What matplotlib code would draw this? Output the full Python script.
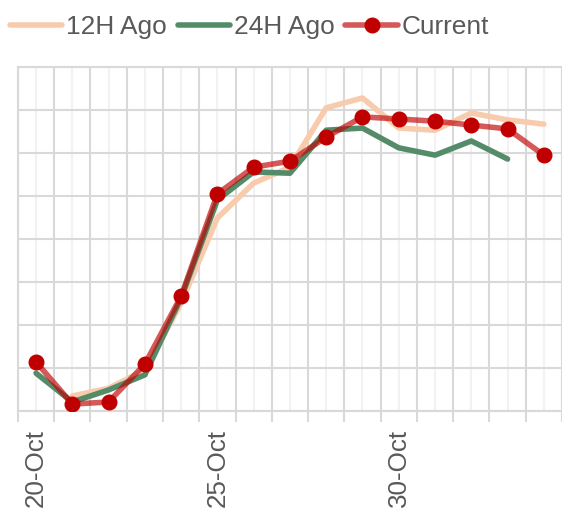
import matplotlib
matplotlib.use("Agg")
import matplotlib.pyplot as plt
import numpy as np

dates = ["20-Oct", "21-Oct", "22-Oct", "23-Oct", "24-Oct", "25-Oct", "26-Oct", "27-Oct",
         "28-Oct", "29-Oct", "30-Oct", "31-Oct", "1-Nov", "2-Nov", "3-Nov"]
ago12 = [np.nan, 0.35, 0.53, 0.95, 2.51, 4.49, 5.30, 5.67, 7.05, 7.28, 6.58, 6.53, 6.93, 6.77, 6.67]
ago24 = [0.88, 0.21, 0.49, 0.84, 2.63, 4.91, 5.56, 5.53, 6.53, 6.58, 6.12, 5.95, 6.28, 5.86, np.nan]
current = [1.14, 0.16, 0.21, 1.09, 2.67, 5.05, 5.67, 5.81, 6.37, 6.84, 6.79, 6.74, 6.65, 6.56, 5.95]
shown_labels = {"20-Oct", "25-Oct", "30-Oct"}

plt.rcParams['font.family'] = ['Liberation Sans', 'DejaVu Sans']

fig = plt.figure(figsize=(5.62, 5.2), dpi=100)
ax = fig.add_axes([17.9 / 562, 1 - 411 / 520, 1 - 17.9 / 562, (411 - 67) / 520])

x = np.arange(len(dates))
ax.plot(x, ago12, color='#F8CBAD', lw=4, solid_capstyle='round', label='12H Ago', zorder=3)
ax.plot(x, ago24, color='#548C6A', lw=4, solid_capstyle='round', label='24H Ago', zorder=4)
ax.plot(x, current, color='#C00000', alpha=0.65, lw=4, solid_capstyle='round', zorder=5)
ax.plot(x, current, ls='none', marker='o', ms=10.5, color='#C00000', zorder=6)
h_cur, = ax.plot([], [], color='#D45959', lw=4, marker='o', ms=10.5, mfc='#C00000', mec='#C00000',
                 solid_capstyle='round', label='Current')

ax.set_xlim(-0.5, len(dates) - 0.5)
ax.set_ylim(0, 8)
ax.set_yticks(np.arange(0, 9, 1))
ax.tick_params(axis='y', length=0, labelleft=False)

ax.set_xticks(x)
ax.set_xticklabels([d if d in shown_labels else '' for d in dates], rotation=90,
                   fontsize=18.7, color='#595959')
ax.set_xticks(np.arange(-0.5, len(dates), 1), minor=True)
ax.tick_params(axis='x', which='major', length=0, pad=13)
ax.tick_params(axis='x', which='minor', length=8, width=1.5, color='#D9D9D9')

ax.grid(True, which='major', axis='y', color='#D9D9D9', lw=1.5, zorder=0)
ax.grid(True, which='major', axis='x', color='#F2F2F2', lw=1.5, zorder=0)
ax.grid(True, which='minor', axis='x', color='#D9D9D9', lw=1.5, zorder=0)
ax.set_axisbelow(True)

for s in ['left', 'bottom', 'top']:
    ax.spines[s].set_color('#D9D9D9')
    ax.spines[s].set_linewidth(1.5)
ax.spines['right'].set_visible(False)

handles = [ax.lines[0], ax.lines[1], h_cur]
fig.legend(handles=handles, labels=['12H Ago', '24H Ago', 'Current'], ncol=3,
           loc='center left', bbox_to_anchor=(10 / 562, 1 - 27 / 520), frameon=False,
           fontsize=18.9, labelcolor='#595959', handlelength=2.0, handletextpad=0.15,
           columnspacing=0.4, borderpad=0, borderaxespad=0)

fig.savefig('out.png', dpi=100)
